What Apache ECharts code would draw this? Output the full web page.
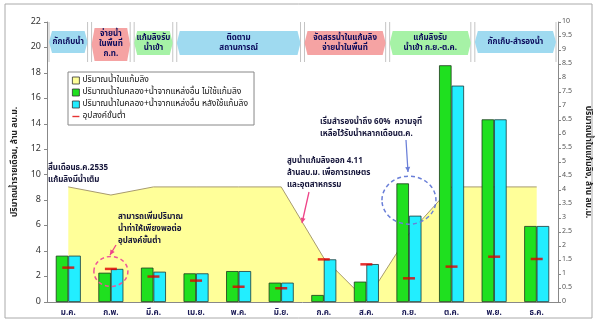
<!DOCTYPE html>
<html><head><meta charset="utf-8">
<script src="https://cdn.jsdelivr.net/npm/echarts@6/dist/echarts.min.js"></script>
<style>html,body{margin:0;padding:0;background:#fff}#c{width:600px;height:327px}</style>
</head><body><div id="c"></div>
<script>
const FONT = 'Tahoma, "Noto Sans Thai", "Noto Sans", sans-serif';
const months = ['ม.ค.','ก.พ.','มี.ค.','เม.ย.','พ.ค.','มิ.ย.','ก.ค.','ส.ค.','ก.ย.','ต.ค.','พ.ย.','ธ.ค.'];
const reservoirVolume = [4.11,3.82,4.11,4.11,4.11,4.11,1.57,0.05,2.43,4.11,4.11,4.11];
const flowWithoutCheek = [3.64,2.30,2.70,2.25,2.43,1.52,0.55,1.60,9.32,18.6,14.35,5.97];
const flowWithCheek = [3.64,2.60,2.38,2.25,2.43,1.52,3.35,2.98,6.78,17.0,14.35,5.97];
const minDemand = [2.70,2.60,2.00,1.68,1.20,1.08,3.35,2.96,1.86,2.78,3.56,3.38];
const leftTicks = {min:0, max:22, interval:2};
const rightTicks = {min:0, max:10, interval:0.5};
const seriesNames = ['ปริมาณน้ำในแก้มลิง','ปริมาณน้ำในคลอง+น้ำจากแหล่งอื่น ไม่ใช้แก้มลิง','ปริมาณน้ำในคลอง+น้ำจากแหล่งอื่น หลังใช้แก้มลิง','อุปสงค์ขั้นต่ำ'];
const periodLabels = ['กักเก็บน้ำ','จ่ายน้ำ\nในพื้นที่\nก.ท.','แก้มลิงรับ\nน้ำเข้า','ติดตาม\nสถานการณ์','จัดสรรน้ำในแก้มลิง\nจ่ายน้ำในพื้นที่','แก้มลิงรับ\nน้ำเข้า ก.ย.-ต.ค.','กักเก็บ-สำรองน้ำ'];
const periodFrom = [0,1,2,3,6,8,10];
const periodTo   = [0,1,2,5,7,9,11];

const C = {yellow:'#ffff99', green:'#1fe01f', cyan:'#22eeff', red:'#e00000',
  pBlue:'#9fdaf0', pPink:'#f5a3a3', pGreen:'#a6f2a6'};
const periodColors = [C.pBlue,C.pPink,C.pGreen,C.pBlue,C.pPink,C.pGreen,C.pBlue];

const chart = echarts.init(document.getElementById('c'), null, {renderer:'canvas'});
const option = {
  backgroundColor:'#fff',
  animation:false,
  textStyle:{fontFamily:FONT},
  grid:{left:47, right:42, top:22, bottom:25},
  legend:{
    orient:'vertical', left:68, top:72, width:200,
    backgroundColor:'#fff', borderColor:'#888', borderWidth:1, borderRadius:0,
    padding:[4,6,4,4], itemGap:3, itemWidth:7, itemHeight:7,
    textStyle:{fontSize:8.5, color:'#111', fontFamily:FONT, padding:[0,0,0,-2]},
    data:[
      {name:seriesNames[0], icon:'rect', itemStyle:{color:C.yellow, borderColor:'#333', borderWidth:0.8}},
      {name:seriesNames[1], icon:'rect', itemStyle:{color:C.green, borderColor:'#333', borderWidth:0.8}},
      {name:seriesNames[2], icon:'rect', itemStyle:{color:C.cyan, borderColor:'#333', borderWidth:0.8}},
      {name:seriesNames[3], icon:'path://M0 0M10 10M0 4H10V6H0Z', itemStyle:{color:C.red, borderWidth:0}}
    ]
  },
  xAxis:{type:'category', data:months,
    axisLine:{lineStyle:{color:'#888'}}, axisTick:{show:false},
    axisLabel:{fontSize:8, fontWeight:'bold', color:'#1a1a55', margin:7, fontFamily:FONT}},
  yAxis:[
    {type:'value', min:leftTicks.min, max:leftTicks.max, interval:leftTicks.interval,
     name:'ปริมาณน้ำรายเดือน, ล้าน ลบ.ม.', nameLocation:'middle', nameGap:27,
     nameTextStyle:{fontSize:8.5, fontWeight:'bold', color:'#222', fontFamily:FONT},
     axisLine:{show:true, lineStyle:{color:'#888'}}, axisTick:{show:true, length:3, lineStyle:{color:'#888'}},
     axisLabel:{fontSize:9, color:'#333', margin:6}, splitLine:{show:false}},
    {type:'value', position:'right', min:rightTicks.min, max:rightTicks.max, interval:rightTicks.interval,
     name:'ปริมาณน้ำในแก้มลิง, ล้าน ลบ.ม.', nameLocation:'middle', nameGap:25, nameRotate:-90,
     nameTextStyle:{fontSize:8.5, fontWeight:'bold', color:'#222', fontFamily:FONT},
     axisLine:{show:true, lineStyle:{color:'#888'}}, axisTick:{show:true, length:3, lineStyle:{color:'#888'}},
     axisLabel:{fontSize:7, color:'#555', margin:4}, splitLine:{show:false}}
  ],
  series:[
    {name:seriesNames[0], type:'line', yAxisIndex:1, data:reservoirVolume, symbol:'none', z:1,
     lineStyle:{color:'#a89b6e', width:1}, areaStyle:{color:C.yellow, opacity:1},
     itemStyle:{color:C.yellow}},
    {name:seriesNames[1], type:'bar', yAxisIndex:0, data:flowWithoutCheek, barWidth:12.5, barGap:'0%', z:3,
     itemStyle:{color:C.green, borderColor:'#1a3a1a', borderWidth:0.8}},
    {name:seriesNames[2], type:'bar', yAxisIndex:0, data:flowWithCheek, barWidth:12.5, barGap:'0%', z:3,
     itemStyle:{color:C.cyan, borderColor:'#1a3a3a', borderWidth:0.8}},
    {name:seriesNames[3], type:'scatter', yAxisIndex:0, data:minDemand, symbol:'rect', symbolSize:[12,2.5], z:6,
     itemStyle:{color:C.red}}
  ]
};
chart.setOption(option);

// period boxes & annotations, positioned through the axes
const cx = i => chart.convertToPixel({xAxisIndex:0}, i);
const py = v => chart.convertToPixel({yAxisIndex:0}, v);
const step = cx(1) - cx(0);
const plotTop = py(leftTicks.max);
const g = [];
g.push({type:'rect', shape:{x:5, y:4, width:587, height:314}, style:{fill:null, stroke:'#aaa', lineWidth:1}, z:0});
periodLabels.forEach((lab, k) => {
  const x0 = cx(periodFrom[k]) - step/2 + 2;
  const x1 = cx(periodTo[k]) + step/2 - 2;
  const lines = lab.split('\n').length;
  const top = lines === 3 ? 28 : 31;
  const bot = lines === 3 ? 61 : (lines === 2 ? 55 : 53);
  const mid = (top+bot)/2, d = 3;
  g.push({type:'line', shape:{x1:x0, y1:plotTop, x2:x0, y2:62}, style:{stroke:'#c4c4c4', lineWidth:1}, z:8});
  g.push({type:'line', shape:{x1:x1, y1:plotTop, x2:x1, y2:62}, style:{stroke:'#c4c4c4', lineWidth:1}, z:8});
  g.push({type:'polygon', shape:{points:[[x0+d,top],[x1-d,top],[x1,mid],[x1-d,bot],[x0+d,bot],[x0,mid]]},
    style:{fill:periodColors[k], stroke:null}, z:9});
  g.push({type:'text', x:(x0+x1)/2, y:mid, z:10,
    style:{text:lab, fontSize:8, fontWeight:'bold', fill:'#0b0b5c', align:'center', verticalAlign:'middle', lineHeight:10, fontFamily:FONT}});
});
const note = (x, y, t) => g.push({type:'text', x:x, y:y, z:10,
  style:{text:t, fontSize:8, fontWeight:'bold', fill:'#15153a', align:'left', verticalAlign:'top', lineHeight:12, fontFamily:FONT}});
note(48, 162, 'สิ้นเดือนธ.ค.2535\nแก้มลิงมีน้ำเต็ม');
note(287, 155, 'สูบน้ำแก้มลิงออก 4.11\nล้านลบ.ม. เพื่อการเกษตร\nและอุตสาหกรรม');
note(320, 116, 'เริ่มสำรองน้ำถึง 60%  ความจุที่\nเหลือไว้รับน้ำหลากเดือนต.ค.');
note(118, 211, 'สามารถเพิ่มปริมาณ\nน้ำท่าให้เพียงพอต่อ\nอุปสงค์ขั้นต่ำ');

// dashed ellipses
const ell = (cxp, cyp, rx, ry, col) => g.push({type:'ellipse', shape:{cx:cxp, cy:cyp, rx:rx, ry:ry}, z:9,
  style:{fill:null, stroke:col, lineWidth:1.5, lineDash:[4,3]}});
ell(cx(1), py(2.4), 17, 15, '#ee5599');
ell(cx(8), py(8.0), 27, 24, '#6a7fd8');

// arrows
const arrow = (x1,y1,x2,y2,col) => {
  g.push({type:'line', shape:{x1:x1,y1:y1,x2:x2,y2:y2}, style:{stroke:col, lineWidth:1.3}, z:9});
  const a = Math.atan2(y2-y1, x2-x1), L = 5, W = 2.5;
  const bx = x2 - L*Math.cos(a), by = y2 - L*Math.sin(a);
  g.push({type:'polygon', z:9, shape:{points:[[x2,y2],[bx + W*Math.sin(a), by - W*Math.cos(a)],[bx - W*Math.sin(a), by + W*Math.cos(a)]]}, style:{fill:col}});
};
arrow(116, 245, 110, 255, '#ee4488');
arrow(309, 192, 302, 223, '#ee4488');
arrow(406, 140, 408, 172, '#6a7fd8');

chart.setOption({graphic:g});
</script></body></html>
